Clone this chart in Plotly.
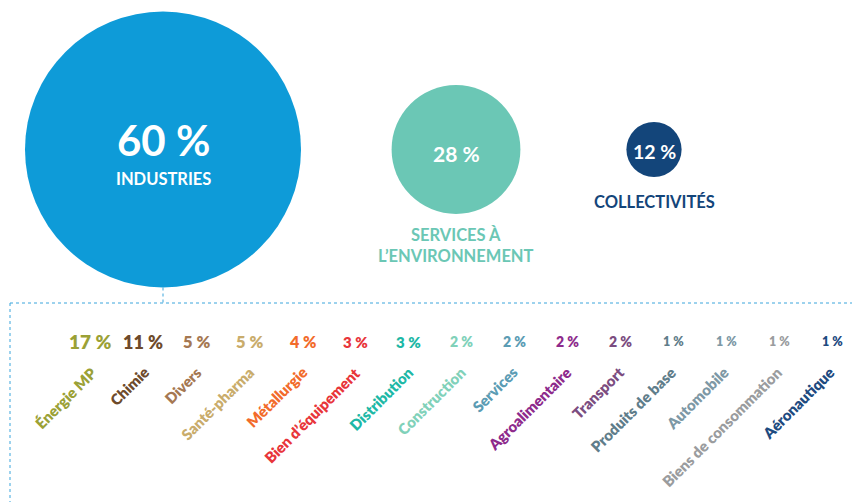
import plotly.graph_objects as go

# ---------------- data ----------------
group_labels = ["INDUSTRIES", "SERVICES À<br>L’ENVIRONNEMENT", "COLLECTIVITÉS"]
group_values = [60, 28, 12]

sector_labels = ["Énergie MP", "Chimie", "Divers", "Santé-pharma", "Métallurgie",
                 "Bien d’équipement", "Distribution", "Construction", "Services",
                 "Agroalimentaire", "Transport", "Produits de base", "Automobile",
                 "Biens de consommation", "Aéronautique"]
sector_values = [17, 11, 5, 5, 4, 3, 3, 2, 2, 2, 2, 1, 1, 1, 1]

# ---------------- styles / layout ----------------
group_colors = ["#0E9BD8", "#6BC7B5", "#13457A"]
group_x = [163, 456, 654]
group_y = 149.5
px_per_pct = 4.6  # circle diameter in px per percentage point

sector_colors = ["#9BA136", "#6E4A2B", "#A57852", "#C9AC6B", "#F26B2B",
                 "#E8353A", "#1DB8A6", "#80D1B9", "#5B9CB4", "#8E2B8C",
                 "#7B4C80", "#5F7D8A", "#7D98A5", "#9A9C9E", "#1D4A7F"]
pct_sizes = [19, 18, 16.5, 16.5, 16, 15, 15, 14, 14, 14, 14, 12.5, 12.5, 12.5, 12.5]

FONT = "Lato, 'Open Sans', sans-serif"
OFF = 8  # page body margin offset

fig = go.Figure()

# circles, diameter proportional to value
fig.add_trace(go.Scatter(
    x=group_x, y=[group_y] * len(group_values),
    mode="markers",
    marker=dict(size=group_values, sizemode="diameter", sizeref=1 / px_per_pct,
                color=group_colors, line=dict(width=0), opacity=1),
    hoverinfo="skip", showlegend=False,
))

annotations = []

def fmt(v):
    return f"{v} %"

# big circle texts (inside)
annotations.append(dict(x=group_x[0], y=140, text=fmt(group_values[0]), showarrow=False,
                        font=dict(family=FONT, size=42, color="white", weight=700)))
annotations.append(dict(x=group_x[0], y=179, text=group_labels[0], showarrow=False,
                        font=dict(family=FONT, size=16.5, color="white", weight=700)))
# second circle
annotations.append(dict(x=group_x[1], y=153.5, text=fmt(group_values[1]), showarrow=False,
                        font=dict(family=FONT, size=21, color="white", weight=700)))
annotations.append(dict(x=group_x[1], y=245, text=group_labels[1], showarrow=False,
                        font=dict(family=FONT, size=16.5, color=group_colors[1], weight=700)))
# third circle
annotations.append(dict(x=group_x[2], y=151.5, text=fmt(group_values[2]), showarrow=False,
                        font=dict(family=FONT, size=19.5, color="white", weight=700)))
annotations.append(dict(x=group_x[2], y=201.5, text=group_labels[2], showarrow=False,
                        font=dict(family=FONT, size=16.5, color=group_colors[2], weight=700)))

# sector row
pct_x0, pct_dx = 90, 53.07
lab_x0, lab_dx = 102.5, 52.7
for i, (lab, val) in enumerate(zip(sector_labels, sector_values)):
    annotations.append(dict(x=pct_x0 + pct_dx * i, y=341.5, text=fmt(val), showarrow=False,
                            xanchor="center", yanchor="middle",
                            font=dict(family=FONT, size=pct_sizes[i], color=sector_colors[i], weight=800)))
    annotations.append(dict(x=lab_x0 + lab_dx * i, y=360.5, text=lab, showarrow=False,
                            textangle=-45, xanchor="right", yanchor="top",
                            font=dict(family=FONT, size=15, color=sector_colors[i], weight=800)))

line_style = dict(color="#3BA5DC", width=1, dash="3px,3px")
shapes = [
    dict(type="line", x0=group_x[0], x1=group_x[0], y0=group_y + group_values[0] * px_per_pct / 2, y1=303, line=line_style),
    dict(type="line", x0=10, x1=860, y0=303, y1=303, line=line_style),
    dict(type="line", x0=10, x1=10, y0=303, y1=502, line=line_style),
]

fig.update_layout(
    width=860 - OFF, height=502 - OFF,
    margin=dict(l=0, r=0, t=0, b=0),
    paper_bgcolor="white", plot_bgcolor="white",
    xaxis=dict(range=[OFF, 860], visible=False, fixedrange=True),
    yaxis=dict(range=[502, OFF], visible=False, fixedrange=True),
    annotations=annotations,
    shapes=shapes,
    showlegend=False,
)

fig.write_html("out.html")
